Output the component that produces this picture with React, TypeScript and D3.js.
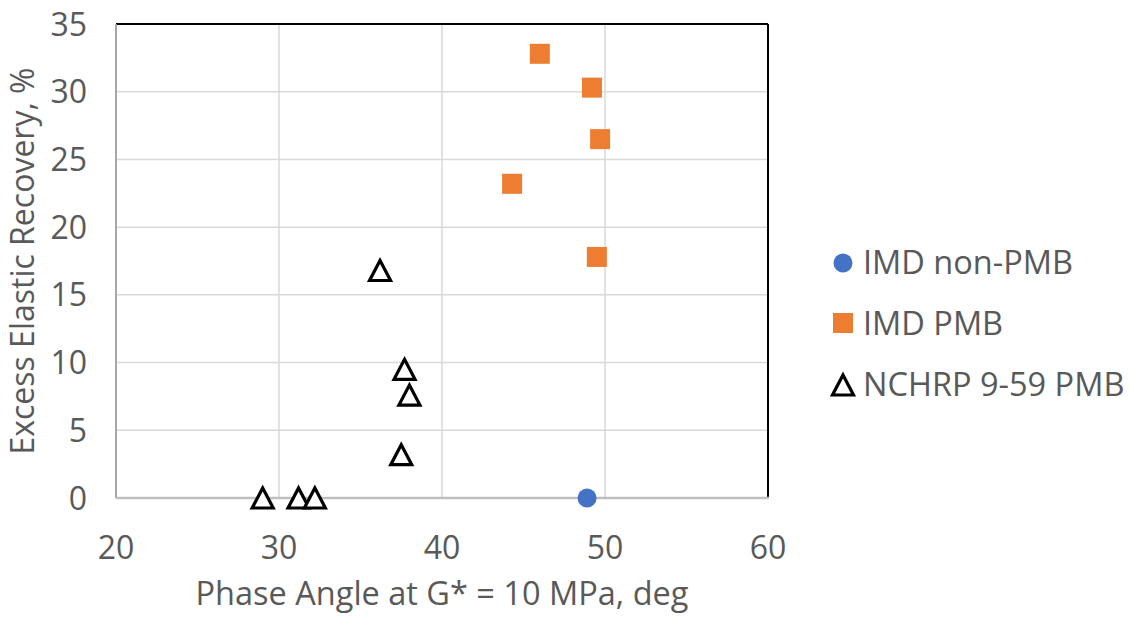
import React from "react";
import * as d3 from "d3";

const xTicks = [20, 30, 40, 50, 60];
const yTicks = [0, 5, 10, 15, 20, 25, 30, 35];

const imdNonPmbX = [48.9];
const imdNonPmbY = [0];

const imdPmbX = [46.0, 49.2, 49.7, 44.3, 49.5];
const imdPmbY = [32.8, 30.3, 26.5, 23.2, 17.8];

const nchrpX = [29.0, 31.2, 32.2, 36.2, 37.7, 38.0, 37.5];
const nchrpY = [0, 0, 0, 16.8, 9.5, 7.6, 3.2];

const legendLabels = ["IMD non-PMB", "IMD PMB", "NCHRP 9-59 PMB"];

const FONT = "'Open Sans', 'Noto Sans', sans-serif";
const TXT = "#595959";

export default function App() {
  const W = 1129, H = 618;
  const x = d3.scaleLinear().domain([20, 60]).range([116, 768]);
  const y = d3.scaleLinear().domain([0, 35]).range([498, 24]);

  const tri = (cx: number, cy: number, k: string) => {
    const s = 21;
    const h = 20;
    const p = `M${cx},${cy - h / 2} L${cx + s / 2},${cy + h / 2} L${cx - s / 2},${cy + h / 2} Z`;
    return <path key={k} d={p} fill="#fff" stroke="#000" strokeWidth={3.2} strokeLinejoin="miter" />;
  };

  return (
    <svg width={W} height={H} style={{ position: "absolute", left: 0, top: 0, background: "#fff" }}>
      <rect x={0} y={0} width={W} height={H} fill="#fff" />
      {xTicks.slice(1, -1).map((t) => (
        <line key={"gx" + t} x1={x(t)} x2={x(t)} y1={y(35)} y2={y(0)} stroke="#d9d9d9" strokeWidth={1.5} />
      ))}
      {yTicks.slice(1, -1).map((t) => (
        <line key={"gy" + t} x1={x(20)} x2={x(60)} y1={y(t)} y2={y(t)} stroke="#d9d9d9" strokeWidth={1.5} />
      ))}
      <line x1={x(20)} x2={x(60)} y1={y(35)} y2={y(35)} stroke="#000" strokeWidth={2} />
      <line x1={x(60)} x2={x(60)} y1={y(35)} y2={y(0)} stroke="#000" strokeWidth={2} />
      <line x1={x(20)} x2={x(20)} y1={y(35)} y2={y(0)} stroke="#a6a6a6" strokeWidth={2} />
      <line x1={x(20)} x2={x(60) + 1} y1={y(0)} y2={y(0)} stroke="#bfbfbf" strokeWidth={2.5} />

      {yTicks.map((t) => (
        <text key={"yt" + t} x={87} y={y(t)} dy="0.36em" textAnchor="end" fontFamily={FONT} fontSize={32} fill={TXT}>
          {t}
        </text>
      ))}
      {xTicks.map((t) => (
        <text key={"xt" + t} x={x(t)} y={559} textAnchor="middle" fontFamily={FONT} fontSize={32} fill={TXT}>
          {t}
        </text>
      ))}

      <text x={442} y={605} textAnchor="middle" fontFamily={FONT} fontSize={32.5} fill={TXT}>
        Phase Angle at G* = 10 MPa, deg
      </text>
      <text transform={`translate(34,261) rotate(-90)`} textAnchor="middle" fontFamily={FONT} fontSize={32} fill={TXT}>
        Excess Elastic Recovery, %
      </text>

      {imdPmbX.map((v, i) => (
        <rect key={"sq" + i} x={x(v) - 10} y={y(imdPmbY[i]) - 10} width={20} height={20} fill="#ED7D31" />
      ))}
      {imdNonPmbX.map((v, i) => (
        <circle key={"c" + i} cx={x(v)} cy={y(imdNonPmbY[i])} r={9.5} fill="#4472C4" />
      ))}
      {nchrpX.map((v, i) => tri(x(v), y(nchrpY[i]), "t" + i))}

      <circle cx={843} cy={263} r={9.5} fill="#4472C4" />
      <rect x={833} y={313} width={20} height={20} fill="#ED7D31" />
      {tri(843, 385, "lt")}
      {legendLabels.map((l, i) => (
        <text key={"lg" + i} x={863} y={274 + i * 61} fontFamily={FONT} fontSize={32.5} fill={TXT}>
          {l}
        </text>
      ))}
    </svg>
  );
}
